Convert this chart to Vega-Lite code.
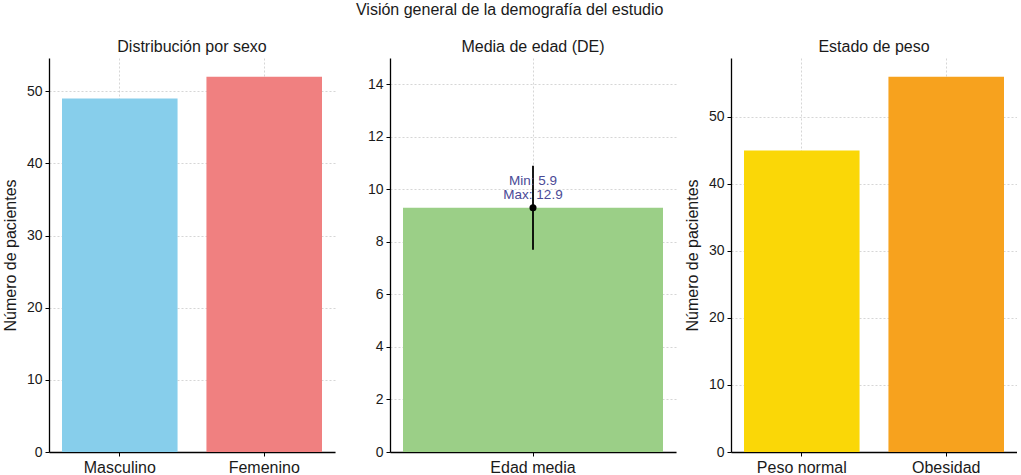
{
  "$schema": "https://vega.github.io/schema/vega-lite/v6.json",
  "description": "Visión general de la demografía del estudio",
  "padding": {"left": 2, "top": 2, "right": 0, "bottom": 0},
  "title": {"text": "Visión general de la demografía del estudio", "anchor": "middle", "fontSize": 16, "offset": 21},
  "datasets": {
    "sexo": [
      {"categoria": "Masculino", "pacientes": 49},
      {"categoria": "Femenino", "pacientes": 52}
    ],
    "edad": [
      {"categoria": "Edad media", "media": 9.3, "de_bajo": 7.7, "de_alto": 10.9, "min": 5.9, "max": 12.9}
    ],
    "peso": [
      {"categoria": "Peso normal", "pacientes": 45},
      {"categoria": "Obesidad", "pacientes": 56}
    ]
  },
  "hconcat": [
    {
      "title": "Distribución por sexo",
      "width": 286,
      "height": 394,
      "data": {"name": "sexo"},
      "mark": {"type": "bar"},
      "encoding": {
        "x": {"field": "categoria", "type": "nominal", "sort": null, "title": null,
              "scale": {"paddingInner": 0.2, "paddingOuter": 0.09},
              "axis": {"labelAngle": 0, "labelFontSize": 16, "bandPosition": 0.5, "grid": true}},
        "y": {"field": "pacientes", "type": "quantitative", "title": "Número de pacientes",
              "scale": {"domain": [0, 54.6], "nice": false},
              "axis": {"values": [0, 10, 20, 30, 40, 50]}},
        "color": {"field": "categoria", "type": "nominal", "legend": null,
                  "scale": {"domain": ["Masculino", "Femenino"], "range": ["#87CEEB", "#F08080"]}}
      }
    },
    {
      "title": "Media de edad (DE)",
      "width": 286,
      "height": 394,
      "data": {"name": "edad"},
      "encoding": {
        "x": {"field": "categoria", "type": "nominal", "title": null,
              "scale": {"paddingInner": 0.2, "paddingOuter": 0.04},
              "axis": {"labelAngle": 0, "labelFontSize": 16, "bandPosition": 0.5, "grid": true}}
      },
      "layer": [
        {
          "mark": {"type": "bar", "color": "#9BCF87"},
          "encoding": {
            "y": {"field": "media", "type": "quantitative", "title": null,
                  "scale": {"domain": [0, 15], "nice": false},
                  "axis": {"values": [0, 2, 4, 6, 8, 10, 12, 14]}}
          }
        },
        {
          "mark": {"type": "rule", "color": "black", "strokeWidth": 1.8},
          "encoding": {
            "y": {"field": "de_bajo", "type": "quantitative"},
            "y2": {"field": "de_alto"}
          }
        },
        {
          "mark": {"type": "point", "filled": true, "color": "black", "opacity": 1, "size": 50},
          "encoding": {
            "y": {"field": "media", "type": "quantitative"}
          }
        },
        {
          "mark": {"type": "text", "color": "#4A4A96", "fontSize": 13.5, "baseline": "bottom", "dy": -20, "lineHeight": 14},
          "encoding": {
            "y": {"field": "media", "type": "quantitative"},
            "text": {"value": ["Min: 5.9", "Max: 12.9"]}
          }
        }
      ]
    },
    {
      "title": "Estado de peso",
      "width": 286,
      "height": 394,
      "data": {"name": "peso"},
      "mark": {"type": "bar"},
      "encoding": {
        "x": {"field": "categoria", "type": "nominal", "sort": null, "title": null,
              "scale": {"paddingInner": 0.2, "paddingOuter": 0.09},
              "axis": {"labelAngle": 0, "labelFontSize": 16, "bandPosition": 0.5, "grid": true}},
        "y": {"field": "pacientes", "type": "quantitative", "title": "Número de pacientes",
              "scale": {"domain": [0, 58.8], "nice": false},
              "axis": {"values": [0, 10, 20, 30, 40, 50]}},
        "color": {"field": "categoria", "type": "nominal", "legend": null,
                  "scale": {"domain": ["Peso normal", "Obesidad"], "range": ["#FAD707", "#F7A21E"]}}
      }
    }
  ],
  "spacing": 55,
  "bounds": "flush",
  "resolve": {"scale": {"color": "independent", "y": "independent"}},
  "config": {
    "font": "Liberation Sans",
    "view": {"stroke": null},
    "bar": {"opacity": 1},
    "axis": {
      "domainColor": "black",
      "domainWidth": 1.3,
      "tickColor": "black",
      "tickSize": 4,
      "tickWidth": 1,
      "labelColor": "#1a1a1a",
      "labelFontSize": 14,
      "labelPadding": 3,
      "titleFontSize": 16,
      "titleFontWeight": "normal",
      "titleColor": "#1a1a1a",
      "titlePadding": 8,
      "gridColor": "#b5b5b5",
      "gridDash": [2, 2],
      "gridOpacity": 0.7,
      "gridWidth": 0.8,
      "zindex": 1
    },
    "title": {"fontSize": 16, "fontWeight": "normal", "color": "#1a1a1a", "offset": 3}
  }
}
